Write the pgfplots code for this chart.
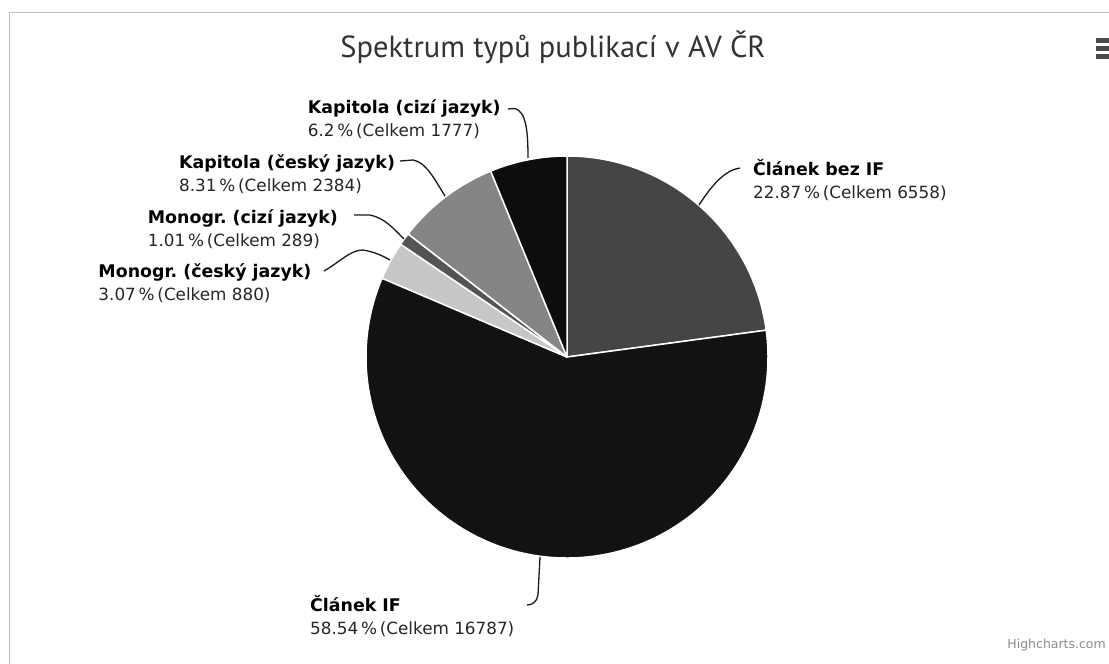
\documentclass[border=0pt]{standalone}
\usepackage{pgfplots}
\pgfplotsset{compat=1.18}
\usepackage{pgfplotstable}
\usepackage{fontspec}
\setmainfont{DejaVu Sans}
\newfontfamily\titlefont{PT Sans}
\frenchspacing

% share in %, total count, shade (percent black)
\pgfplotstableread[col sep=comma]{
pct,total,shade
22.87,6558,73
58.54,16787,93
3.07,880,22
1.01,289,67
8.31,2384,48
6.2,1777,95
}\pietable

\newcommand\lb[1]{\fontsize{17.4bp}{20bp}\selectfont\bfseries #1}
\newcommand\lr[1]{\fontsize{16.8bp}{20bp}\selectfont #1}

\begin{document}
\begin{tikzpicture}
\path[use as bounding box] (0,0) rectangle (1109bp,664bp);
\clip (0,0) rectangle (1109bp,664bp);
\fill[white] (0,0) rectangle (1109bp,664bp);
\begin{axis}[at={(0,0)}, anchor=south west, scale only axis,
  width=1109bp, height=664bp, xmin=0, xmax=1109, ymin=0, ymax=664,
  y dir=reverse, hide axis, clip=false]
% outer frame
\draw[color=black!25, line width=1.5bp] (axis cs:9.5,700) -- (axis cs:9.5,12.5) -- (axis cs:1200,12.5);
% slices
\def\cum{0}
\pgfplotsforeachungrouped \i in {0,...,5}{%
  \pgfplotstablegetelem{\i}{pct}\of\pietable \let\p\pgfplotsretval
  \pgfplotstablegetelem{\i}{shade}\of\pietable \let\k\pgfplotsretval
  \pgfmathsetmacro\a{90-3.6*\cum}%
  \pgfmathsetmacro\b{90-3.6*(\cum+\p)}%
  \edef\tmp{\noexpand\fill[black!\k, draw=white, line width=1.5bp, line join=round]
    (axis cs:567,357) -- ++(\a:201bp) arc[start angle=\a, end angle=\b, radius=201bp] -- cycle;}%
  \tmp
  \pgfmathsetmacro\cum{\cum+\p}%
}
% connectors
\begin{scope}[line width=1.3bp, black!90]
\draw (axis cs:508,109) -- (axis cs:515,108.5) .. controls (axis cs:526,112) and (axis cs:528,130) .. (axis cs:528,158);
\draw (axis cs:400,161) -- (axis cs:413,160) .. controls (axis cs:426,162) and (axis cs:435,180) .. (axis cs:445,196);
\draw (axis cs:354,215) -- (axis cs:370,215) .. controls (axis cs:385,218) and (axis cs:395,230) .. (axis cs:404,239);
\draw (axis cs:324,271) .. controls (axis cs:340,262) and (axis cs:350,250) .. (axis cs:363,250) .. controls (axis cs:375,252) and (axis cs:383,256) .. (axis cs:390,260);
\draw (axis cs:699,205) .. controls (axis cs:712,185) and (axis cs:725,170) .. (axis cs:740,168);
\draw (axis cs:540,557) -- (axis cs:538,595) .. controls (axis cs:537,602) and (axis cs:532,605) .. (axis cs:527,605);
\end{scope}
% labels
\begin{scope}[every node/.style={anchor=base west, inner sep=0pt}]
\node[black] at (axis cs:307.7,113.3) {\lb{Kapitola (cizí jazyk)}};
\node[black!85] at (axis cs:307.7,136) {\lr{6.2\,\%\,(Celkem 1777)}};
\node[black] at (axis cs:179,168.3) {\lb{Kapitola (český jazyk)}};
\node[black!85] at (axis cs:179,191) {\lr{8.31\,\%\,(Celkem 2384)}};
\node[black] at (axis cs:147.7,223.3) {\lb{Monogr. (cizí jazyk)}};
\node[black!85] at (axis cs:147.7,246) {\lr{1.01\,\%\,(Celkem 289)}};
\node[black] at (axis cs:98.3,277.3) {\lb{Monogr. (český jazyk)}};
\node[black!85] at (axis cs:98.3,300) {\lr{3.07\,\%\,(Celkem 880)}};
\node[black] at (axis cs:753,175) {\lb{Článek bez IF}};
\node[black!85] at (axis cs:753,198) {\lr{22.87\,\%\,(Celkem 6558)}};
\node[black] at (axis cs:310,611.7) {\lb{Článek IF}};
\node[black!85] at (axis cs:310,634.5) {\lr{58.54\,\%\,(Celkem 16787)}};
\end{scope}
% title
\node[anchor=base, inner sep=0pt, text=black!80, font=\titlefont\fontsize{30.5bp}{34bp}\selectfont] at (axis cs:553,58) {Spektrum typů publikací v AV ČR};
% menu icon
\fill[black!70] (axis cs:1096,38.5) rectangle (axis cs:1110,43.5);
\fill[black!70] (axis cs:1096,46.5) rectangle (axis cs:1110,51.5);
\fill[black!70] (axis cs:1096,54.5) rectangle (axis cs:1110,59.5);
% credit
\node[anchor=base east, inner sep=0pt, text=black!45, font=\fontsize{12.5bp}{15bp}\selectfont] at (axis cs:1106,648) {Highcharts.com};
\end{axis}
\end{tikzpicture}
\end{document}
